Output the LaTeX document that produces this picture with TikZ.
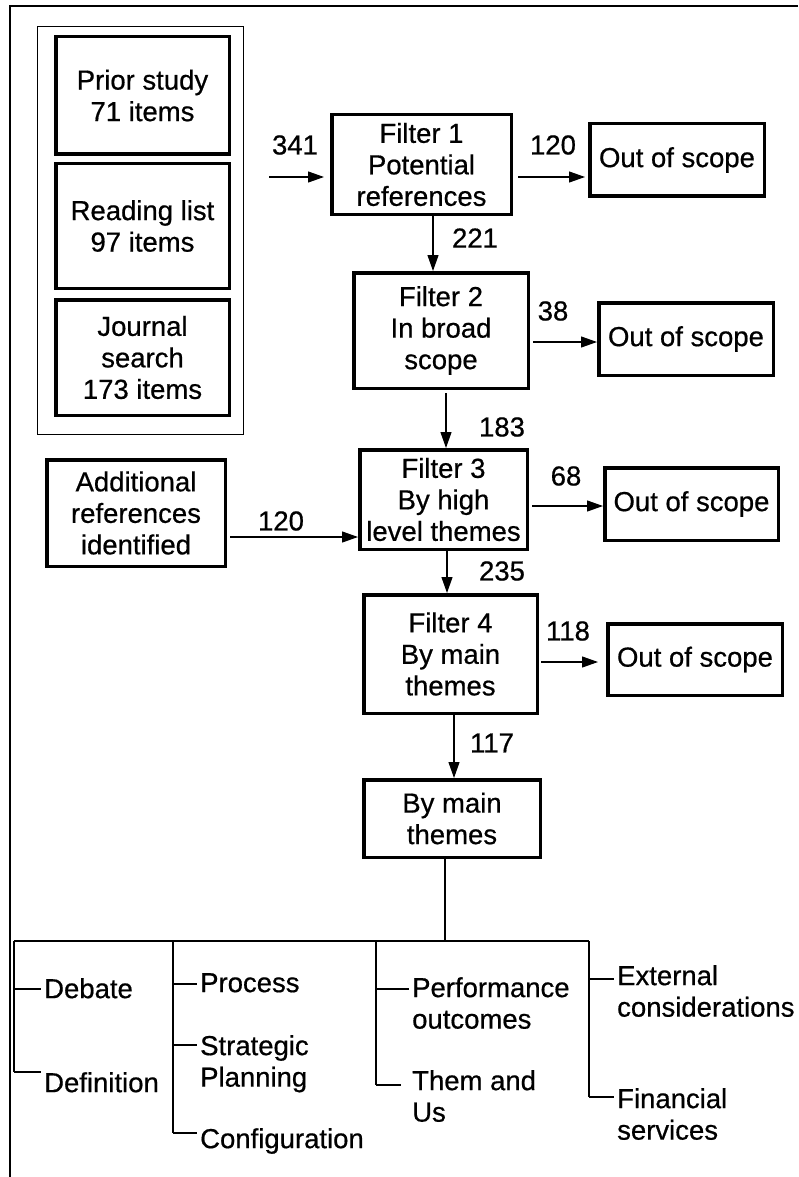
\documentclass[tikz,border=0pt]{standalone}
\usepackage{fontspec}
\setmainfont[FakeBold=0.6]{Liberation Sans}
\usetikzlibrary{arrows.meta}
\begin{document}
\begin{tikzpicture}[x=1pt,y=-1pt,
  every node/.style={font=\fontsize{27.5}{31.5}\selectfont},
  stage/.style={draw, line width=3.5pt, inner sep=0pt, align=center},
  group/.style={draw, line width=1pt, inner sep=0pt},
  count/.style={inner sep=0pt},
  leaf/.style={anchor=north west, inner xsep=3pt, inner ysep=0pt, align=left},
  flow/.style={line width=1.2pt, -{Triangle[length=16pt,width=11pt]}},
  tree/.style={line width=1.2pt},
  frame/.style={line width=1.5pt}
]
\useasboundingbox (0,0) rectangle (798,1177);

% page frame (top and left edges)
\draw[frame] (798,6) -- (10,6) -- (10,1177);

% source collections
\node[group, minimum width=206pt, minimum height=408pt] (sources) at (140.5,230.5) {};
\node[stage, minimum width=173.5pt, minimum height=117.5pt] (prior) at (142.5,95.5) {Prior study\\71 items};
\node[stage, minimum width=173.5pt, minimum height=124.5pt] (reading) at (142.5,226) {Reading list\\97 items};
\node[stage, minimum width=173.5pt, minimum height=115.5pt] (journal) at (142.5,357.5) {Journal\\search\\173 items};

% filter chain
\node[stage, minimum width=179.5pt, minimum height=99.5pt] (f1) at (421.5,164.5) {Filter 1\\Potential\\references};
\node[stage, minimum width=174.5pt, minimum height=72.5pt] (oos1) at (677,160) {Out of scope};
\node[stage, minimum width=174.5pt, minimum height=115.5pt] (f2) at (441,330.5) {Filter 2\\In broad\\scope};
\node[stage, minimum width=174.5pt, minimum height=72.5pt] (oos2) at (686,339) {Out of scope};
\node[stage, minimum width=167.5pt, minimum height=99.5pt] (f3) at (443.5,499.5) {Filter 3\\By high\\level themes};
\node[stage, minimum width=173.5pt, minimum height=72.5pt] (oos3) at (691.5,504) {Out of scope};
\node[stage, minimum width=178.5pt, minimum height=106.5pt] (add) at (136,513) {Additional\\references\\identified};
\node[stage, minimum width=173.5pt, minimum height=118.5pt] (f4) at (450.5,654) {Filter 4\\By main\\themes};
\node[stage, minimum width=174.5pt, minimum height=71.5pt] (oos4) at (695,659.5) {Out of scope};
\node[stage, minimum width=176.5pt, minimum height=77.5pt] (themes) at (452,818.5) {By main\\themes};

% connector guide points
\coordinate (in1) at (269,177);
\coordinate (x221) at (433,0);
\coordinate (x183) at (446,0);
\coordinate (x235) at (447,0);
\coordinate (x117) at (454,0);
\coordinate (y38) at (0,342);
\coordinate (y68) at (0,506);
\coordinate (y120) at (0,537);
\coordinate (y118) at (0,662);

% flow arrows
\draw[flow, shorten >=6pt] (in1) -- (in1 -| f1.west);
\draw[flow, shorten <=5pt, shorten >=3pt] (f1.east |- in1) -- (oos1.west |- in1);
\draw[flow] (f1.south -| x221) -- (f2.north -| x221);
\draw[flow, shorten <=3pt] (f2.east |- y38) -- (oos2.west |- y38);
\draw[flow, shorten <=3pt] (f2.south -| x183) -- (f3.north -| x183);
\draw[flow, shorten <=3pt] (f3.east |- y68) -- (oos3.west |- y68);
\draw[flow, shorten <=3pt] (add.east |- y120) -- (f3.west |- y120);
\draw[flow] (f3.south -| x235) -- (f4.north -| x235);
\draw[flow, shorten <=2pt, shorten >=8pt] (f4.east |- y118) -- (oos4.west |- y118);
\draw[flow] (f4.south -| x117) -- (themes.north -| x117);

% counts
\node[count] (n341) at (295,145) {341};
\node[count] (n120a) at (553,145) {120};
\node[count] (n221) at (475,238) {221};
\node[count] (n38) at (553,311) {38};
\node[count] (n183) at (502,427) {183};
\node[count] (n68) at (566,476) {68};
\node[count] (n120b) at (281,521) {120};
\node[count] (n235) at (502,571) {235};
\node[count] (n118) at (568,631) {118};
\node[count] (n117) at (492,743) {117};

% theme tree
\coordinate (hub) at (445,941);
\coordinate (colA) at (14,941);
\coordinate (colB) at (173,941);
\coordinate (colC) at (376,941);
\coordinate (colD) at (589,941);
\coordinate (tDebate) at (14,989);
\coordinate (tDefinition) at (14,1072);
\coordinate (tProcess) at (173,984);
\coordinate (tStrategic) at (173,1045);
\coordinate (tConfig) at (173,1133);
\coordinate (tPerf) at (376,989);
\coordinate (tThem) at (376,1085);
\coordinate (tExternal) at (589,979);
\coordinate (tFinancial) at (589,1097);

\node[leaf] (debate) at (41,978) {Debate};
\node[leaf] (definition) at (41,1072) {Definition};
\node[leaf] (process) at (197,973) {Process};
\node[leaf] (strategic) at (197,1035) {Strategic\\Planning};
\node[leaf] (config) at (197,1128) {Configuration};
\node[leaf] (perf) at (409,977) {Performance\\outcomes};
\node[leaf] (them) at (409,1070) {Them and\\Us};
\node[leaf] (external) at (614,965) {External\\considerations};
\node[leaf] (financial) at (614,1088) {Financial\\services};

\draw[tree] (themes.south -| hub) -- (hub);
\draw[tree] (colA) -- (colD);
\draw[tree] (colA) -- (tDefinition);
\draw[tree] (colB) -- (tConfig);
\draw[tree] (colC) -- (tThem);
\draw[tree] (colD) -- (tFinancial);
\draw[tree] (tDebate) -- (tDebate -| debate.west);
\draw[tree] (tDefinition) -- (tDefinition -| definition.west);
\draw[tree] (tProcess) -- (tProcess -| process.west);
\draw[tree] (tStrategic) -- (tStrategic -| strategic.west);
\draw[tree] (tConfig) -- (tConfig -| config.west);
\draw[tree] (tPerf) -- (tPerf -| perf.west);
\draw[tree, shorten >=8pt] (tThem) -- (tThem -| them.west);
\draw[tree] (tExternal) -- (tExternal -| external.west);
\draw[tree] (tFinancial) -- (tFinancial -| financial.west);
\end{tikzpicture}
\end{document}
